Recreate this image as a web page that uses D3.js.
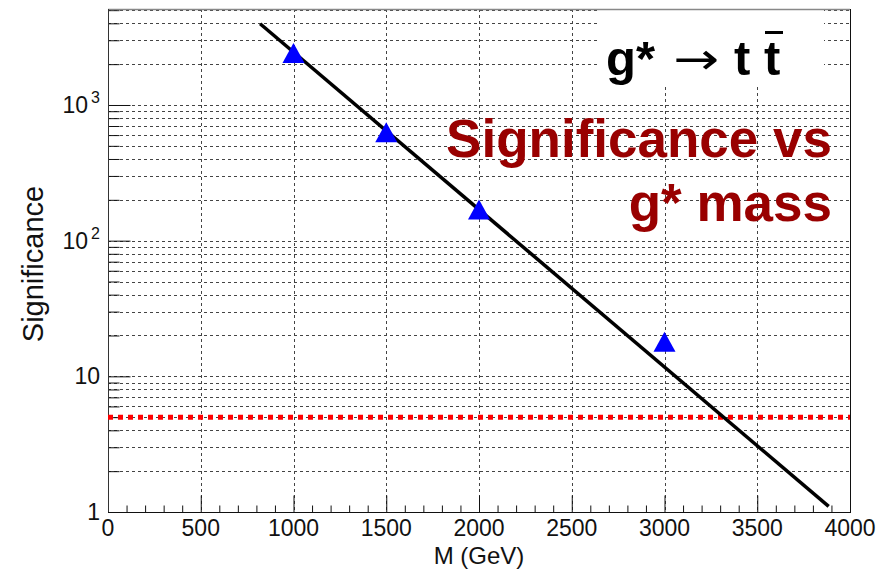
<!DOCTYPE html>
<html>
<head>
<meta charset="utf-8">
<script src="https://cdn.jsdelivr.net/npm/d3@7"></script>
<style>
  html, body { margin: 0; padding: 0; background: #fff; }
  svg { display: block; font-family: "Liberation Sans", Arial, sans-serif; }
</style>
</head>
<body>
<svg id="chart" width="880" height="569"></svg>
<script>
// values
const masses = [1000, 1500, 2000, 3000];
const significance = [2420, 630, 170, 18];
const fitMass = [820, 3885];
const fitSignificance = [3970, 1.1];
const discoveryLevel = 5;
const xTickValues = [0, 500, 1000, 1500, 2000, 2500, 3000, 3500, 4000];
const yTickValues = [1, 10, 100, 1000];
const yTickExponents = [null, null, '2', '3'];

const plotLeft = 108, plotRight = 850, plotTop = 9, plotBottom = 512;

const svg = d3.select('#chart');

const x = d3.scaleLinear().domain([0, 4000]).range([plotLeft, plotRight]);
const y = d3.scaleLog().domain([1, 5100]).range([plotBottom, plotTop]);

// minor log values for the grid
const yMinor = [];
[1, 10, 100, 1000].forEach(d => {
  for (let k = 1; k <= 9; k++) {
    const v = d * k;
    if (v <= 5100) yMinor.push(v);
  }
});

const grid = svg.append('g').attr('class', 'grid');

grid.selectAll('line.h')
  .data(yMinor.filter(v => v > 1))
  .enter().append('line')
  .attr('class', 'h')
  .attr('x1', plotLeft).attr('x2', plotRight)
  .attr('y1', d => Math.round(y(d)) + 0.5)
  .attr('y2', d => Math.round(y(d)) + 0.5)
  .attr('stroke', '#444')
  .attr('stroke-dasharray', '3,3');

grid.selectAll('line.v')
  .data(xTickValues.filter(v => v > 0 && v < 4000))
  .enter().append('line')
  .attr('class', 'v')
  .attr('y1', plotTop).attr('y2', plotBottom)
  .attr('x1', d => Math.round(x(d)) + 0.5)
  .attr('x2', d => Math.round(x(d)) + 0.5)
  .attr('stroke', '#444')
  .attr('stroke-dasharray', '3,3');

// white box behind the process label
svg.append('rect')
  .attr('x', 600).attr('y', plotTop + 1)
  .attr('width', 224).attr('height', 76)
  .attr('fill', '#fff');

// x axis (ticks pointing up)
const xAxis = d3.axisTop(x)
  .tickValues(d3.range(0, 4001, 100))
  .tickSize(7)
  .tickFormat('');
const gx = svg.append('g')
  .attr('transform', `translate(0,${plotBottom + 0.5})`)
  .call(xAxis);
gx.selectAll('.tick line')
  .attr('y2', d => d % 500 === 0 ? -17 : -7)
  .attr('stroke', '#111');
gx.select('.domain').remove();

svg.append('g')
  .attr('font-size', 23)
  .attr('text-anchor', 'middle')
  .attr('fill', '#111')
  .selectAll('text')
  .data(xTickValues)
  .enter().append('text')
  .attr('x', d => x(d))
  .attr('y', 536)
  .text(d => d);

// y axis (ticks pointing right)
const yAxis = d3.axisRight(y)
  .tickValues(yMinor)
  .tickSize(11)
  .tickFormat('');
const gy = svg.append('g')
  .attr('transform', `translate(${plotLeft + 0.5},0)`)
  .call(yAxis);
gy.selectAll('.tick line')
  .attr('x2', d => yTickValues.includes(d) ? 22 : 11)
  .attr('stroke', '#111');
gy.select('.domain').remove();

const yLab = svg.append('g')
  .attr('fill', '#111')
  .attr('text-anchor', 'end');
yTickValues.forEach((v, i) => {
  const t = yLab.append('text')
    .attr('font-size', 23)
    .attr('y', y(v) + 8);
  if (yTickExponents[i]) {
    t.attr('x', 88).text('10');
    yLab.append('text')
      .attr('font-size', 16)
      .attr('x', 100)
      .attr('y', y(v) - 2)
      .text(yTickExponents[i]);
  } else {
    t.attr('x', 100).text(v);
  }
});

// frame
svg.append('line')
  .attr('x1', plotLeft).attr('x2', plotRight)
  .attr('y1', plotTop + 0.5).attr('y2', plotTop + 0.5)
  .attr('stroke', '#888').attr('stroke-width', 1.5);
svg.append('line')
  .attr('x1', plotRight + 0.5).attr('x2', plotRight + 0.5)
  .attr('y1', plotTop).attr('y2', plotBottom)
  .attr('stroke', '#111');
svg.append('line')
  .attr('x1', plotLeft + 0.5).attr('x2', plotLeft + 0.5)
  .attr('y1', plotTop).attr('y2', plotBottom)
  .attr('stroke', '#333');
svg.append('line')
  .attr('x1', plotLeft).attr('x2', plotRight + 1)
  .attr('y1', plotBottom + 0.5).attr('y2', plotBottom + 0.5)
  .attr('stroke', '#111');

// 5 sigma line
svg.append('line')
  .attr('x1', x(0)).attr('x2', x(4000))
  .attr('y1', y(discoveryLevel)).attr('y2', y(discoveryLevel))
  .attr('stroke', '#ff0000')
  .attr('stroke-width', 5)
  .attr('stroke-dasharray', '5,5');

// fit line
const fit = fitMass.map((m, i) => [m, fitSignificance[i]]);
svg.append('path')
  .datum(fit)
  .attr('d', d3.line().x(d => x(d[0])).y(d => y(d[1])))
  .attr('fill', 'none')
  .attr('stroke', '#000')
  .attr('stroke-width', 3.5);

// markers
const points = masses.map((m, i) => ({ m, s: significance[i] }));
svg.append('g')
  .selectAll('path')
  .data(points)
  .enter().append('path')
  .attr('transform', d => `translate(${x(d.m)},${y(d.s)})`)
  .attr('d', 'M0,-10L11,10L-11,10Z')
  .attr('fill', '#0000ff');

// axis titles
svg.append('text')
  .attr('x', (plotLeft + plotRight) / 2)
  .attr('y', 564)
  .attr('text-anchor', 'middle')
  .attr('font-size', 24)
  .attr('fill', '#111')
  .text('M (GeV)');

svg.append('text')
  .attr('transform', 'translate(43,264) rotate(-90)')
  .attr('text-anchor', 'middle')
  .attr('font-size', 29)
  .attr('fill', '#111')
  .text('Significance');

// process label
const proc = svg.append('g').attr('fill', '#000');
proc.append('text')
  .attr('x', 606).attr('y', 75)
  .attr('font-size', 49).attr('font-weight', 'bold')
  .text('g*');
proc.append('text')
  .attr('x', 673).attr('y', 74)
  .attr('font-size', 44)
  .attr('font-family', '"DejaVu Sans", sans-serif')
  .attr('textLength', 46)
  .attr('lengthAdjust', 'spacingAndGlyphs')
  .text('\u2192');
proc.append('text')
  .attr('x', 734).attr('y', 75)
  .attr('font-size', 49).attr('font-weight', 'bold')
  .text('t');
proc.append('text')
  .attr('x', 764).attr('y', 75)
  .attr('font-size', 49).attr('font-weight', 'bold')
  .text('t');
proc.append('rect')
  .attr('x', 765).attr('y', 31)
  .attr('width', 18).attr('height', 3);

// title
const title = svg.append('g')
  .attr('fill', '#990000')
  .attr('font-size', 53)
  .attr('font-weight', 'bold')
  .attr('text-anchor', 'end');
title.append('text').attr('x', 832).attr('y', 157).text('Significance vs');
title.append('text').attr('x', 832).attr('y', 221).text('g* mass');
</script>
</body>
</html>
